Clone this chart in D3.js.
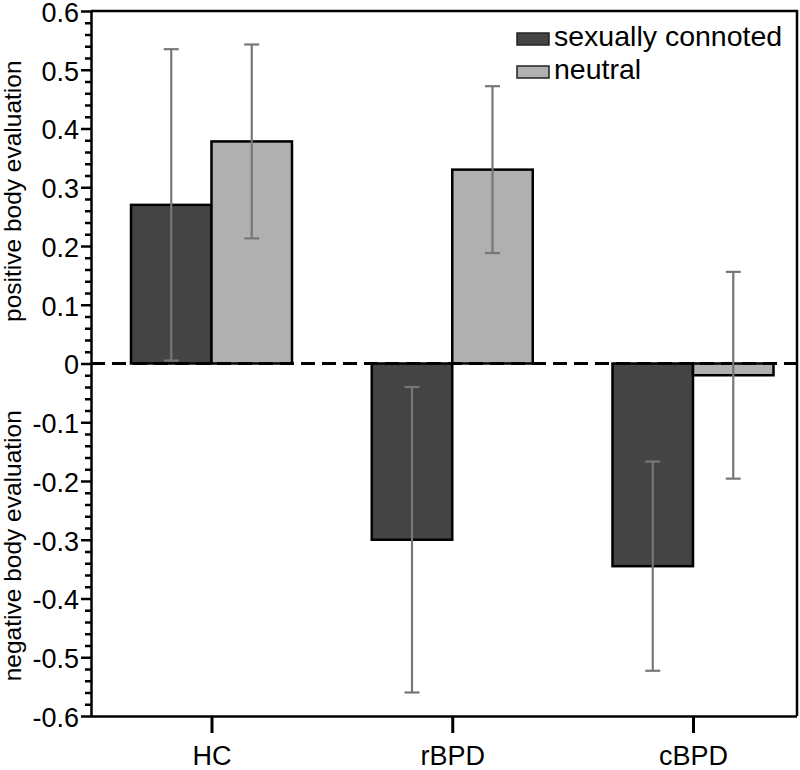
<!DOCTYPE html>
<html>
<head>
<meta charset="utf-8">
<script src="https://cdn.jsdelivr.net/npm/d3@7/dist/d3.min.js"></script>
<style>
  html, body { margin: 0; padding: 0; background: #fff; }
  svg { display: block; }
  text { font-family: "Liberation Sans", Arial, sans-serif; fill: #000; }
</style>
</head>
<body>
<svg id="chart" width="800" height="770"></svg>
<script>
// ---- data ----
const categories = ["HC", "rBPD", "cBPD"];
const seriesNames = ["sexually connoted", "neutral"];
const sexualValues = [0.27, -0.30, -0.345];
const neutralValues = [0.378, 0.33, -0.02];
const sexualErrors = [0.265, 0.26, 0.178];
const neutralErrors = [0.165, 0.142, 0.176];
const yTickValues = [-0.6, -0.5, -0.4, -0.3, -0.2, -0.1, 0, 0.1, 0.2, 0.3, 0.4, 0.5, 0.6];
const yTickLabels = ["-0.6", "-0.5", "-0.4", "-0.3", "-0.2", "-0.1", "0", "0.1", "0.2", "0.3", "0.4", "0.5", "0.6"];
const yTitleTop = "positive body evaluation";
const yTitleBottom = "negative body evaluation";

// ---- layout ----
const pLeft = 91, pRight = 797, pTop = 11, pBottom = 716;
const svg = d3.select("#chart");
const colors = ["#444444", "#b0b0b0"];

const y = d3.scaleLinear().domain([-0.6, 0.6]).range([pBottom, pTop]);
const x = d3.scalePoint().domain(categories).range([211.5, 693]);
const barW = 80.5;

const series = [
  { name: seriesNames[0], values: sexualValues, errors: sexualErrors, color: colors[0], off: -1 },
  { name: seriesNames[1], values: neutralValues, errors: neutralErrors, color: colors[1], off: 0 }
];

// bars
series.forEach(s => {
  svg.append("g").selectAll("rect")
    .data(categories.map((c, i) => ({ c, v: s.values[i] })))
    .join("rect")
    .attr("x", d => x(d.c) + s.off * barW)
    .attr("width", barW)
    .attr("y", d => y(Math.max(0, d.v)))
    .attr("height", d => Math.abs(y(d.v) - y(0)))
    .attr("fill", s.color)
    .attr("stroke", "#000")
    .attr("stroke-width", 2.5);
});

// zero dashed line
svg.append("line")
  .attr("x1", pLeft).attr("x2", pRight)
  .attr("y1", y(0)).attr("y2", y(0))
  .attr("stroke", "#000").attr("stroke-width", 3)
  .attr("stroke-dasharray", "14,7");

// error bars
series.forEach(s => {
  const g = svg.append("g").attr("stroke", "#777").attr("stroke-width", 2.2);
  categories.forEach((c, i) => {
    const cx = x(c) + s.off * barW + barW / 2;
    const lo = s.values[i] - s.errors[i], hi = s.values[i] + s.errors[i];
    g.append("line").attr("x1", cx).attr("x2", cx).attr("y1", y(hi)).attr("y2", y(lo));
    g.append("line").attr("x1", cx - 7.5).attr("x2", cx + 7.5).attr("y1", y(hi)).attr("y2", y(hi));
    g.append("line").attr("x1", cx - 7.5).attr("x2", cx + 7.5).attr("y1", y(lo)).attr("y2", y(lo));
  });
});

// frame (top and right)
svg.append("path")
  .attr("d", `M${pLeft},${pTop}H${pRight}V${pBottom}`)
  .attr("fill", "none").attr("stroke", "#000").attr("stroke-width", 2.5);

// y minor ticks
const minorTicks = d3.range(-30, 31).map(k => k / 50).filter((v, i) => (i % 5) !== 0);
const yMinor = svg.append("g").attr("transform", `translate(${pLeft},0)`)
  .call(d3.axisLeft(y).tickValues(minorTicks).tickSize(6).tickFormat(""));
yMinor.select(".domain").remove();
yMinor.selectAll("line").attr("stroke", "#000").attr("stroke-width", 2.5);

// y major axis
const yAxis = svg.append("g").attr("transform", `translate(${pLeft},0)`)
  .call(d3.axisLeft(y).tickValues(yTickValues).tickSize(10).tickPadding(2)
    .tickFormat((d, i) => yTickLabels[i]));
yAxis.select(".domain").attr("stroke", "#000").attr("stroke-width", 2.5).attr("d", `M0.5,${pTop}V${pBottom}`);
yAxis.selectAll(".tick line").attr("stroke", "#000").attr("stroke-width", 2.5);
yAxis.selectAll(".tick text").attr("font-size", 27).attr("fill", "#000")
  .attr("dy", "0.38em")
  .attr("font-family", "Liberation Sans, Arial, sans-serif");

// x axis
const xAxis = svg.append("g").attr("transform", `translate(0,${pBottom})`)
  .call(d3.axisBottom(x).tickSize(17).tickPadding(13));
xAxis.select(".domain").attr("stroke", "#000").attr("stroke-width", 2.5).attr("d", `M${pLeft},0.5H${pRight}`);
xAxis.selectAll(".tick line").attr("stroke", "#000").attr("stroke-width", 3);
xAxis.selectAll(".tick text").attr("font-size", 27).attr("fill", "#000")
  .attr("font-family", "Liberation Sans, Arial, sans-serif");

// y titles
svg.append("text")
  .attr("transform", `translate(21,${(y(0) + y(0.6)) / 2 + 4}) rotate(-90)`)
  .attr("text-anchor", "middle").attr("font-size", 24.5).text(yTitleTop);
svg.append("text")
  .attr("transform", `translate(21,${(y(0) + y(-0.6)) / 2 + 6}) rotate(-90)`)
  .attr("text-anchor", "middle").attr("font-size", 24.5).text(yTitleBottom);

// legend
const legend = svg.append("g").attr("transform", "translate(517,33)");
series.forEach((s, i) => {
  const g = legend.append("g").attr("transform", `translate(0,${i * 33})`);
  g.append("rect").attr("width", 32).attr("height", 12)
    .attr("fill", s.color).attr("stroke", "#222").attr("stroke-width", 1.5);
  g.append("text").attr("x", 37).attr("y", 12.5).attr("font-size", 28.5).text(s.name);
});
</script>
</body>
</html>
